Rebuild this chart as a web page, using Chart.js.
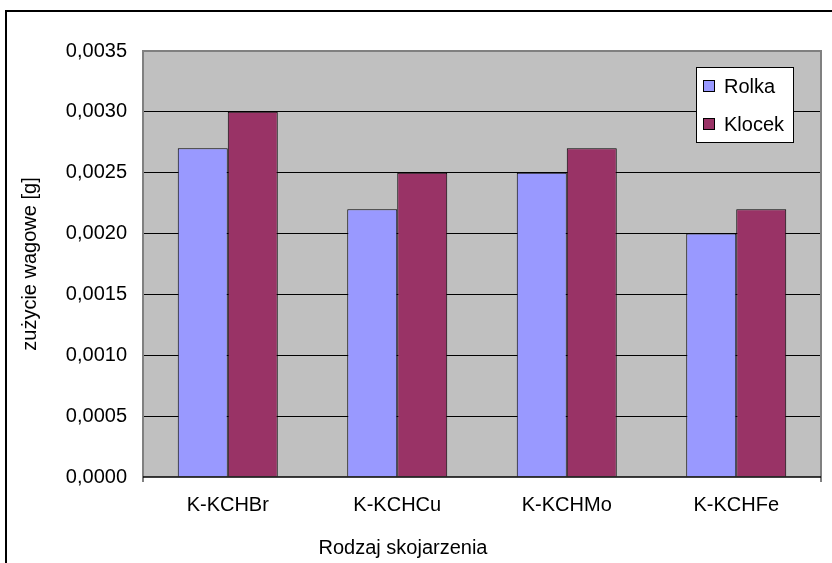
<!DOCTYPE html>
<html>
<head>
<meta charset="utf-8">
<script src="https://cdn.jsdelivr.net/npm/chart.js@4/dist/chart.umd.min.js"></script>
<style>
  html, body { margin: 0; padding: 0; background: #fff; }
  #wrap { position: relative; width: 832px; height: 563px; }
  canvas { display: block; }
</style>
</head>
<body>
<div id="wrap"><canvas id="c" width="832" height="563"></canvas></div>
<script>
// Wear measurements per material pairing
const categories = ['K-KCHBr', 'K-KCHCu', 'K-KCHMo', 'K-KCHFe'];
const rolka  = [0.0027, 0.0022, 0.0025, 0.0020];
const klocek = [0.0030, 0.0025, 0.0027, 0.0022];
const seriesNames = ['Rolka', 'Klocek'];
const yTicks = [0, 0.0005, 0.0010, 0.0015, 0.0020, 0.0025, 0.0030, 0.0035];

const FONT = '"Liberation Sans", Arial, sans-serif';
const FSIZE = 20;

// Outer frame, grey plot background, and plot border
const framePlugin = {
  id: 'frame',
  beforeDraw(chart) {
    const { ctx, chartArea: a } = chart;
    ctx.save();
    ctx.fillStyle = '#fff';
    ctx.fillRect(0, 0, chart.width, chart.height);
    ctx.strokeStyle = '#000';
    ctx.lineWidth = 2;
    ctx.strokeRect(6, 11, chart.width + 10, chart.height + 10);
    ctx.fillStyle = '#C0C0C0';
    ctx.fillRect(a.left, a.top, a.right - a.left, a.bottom - a.top);
    ctx.restore();
  },
  afterDatasetsDraw(chart) {
    const { ctx, chartArea: a } = chart;
    ctx.save();
    ctx.strokeStyle = '#808080';
    ctx.lineWidth = 2;
    ctx.beginPath();
    ctx.moveTo(a.left, a.bottom + 5);
    ctx.lineTo(a.left, a.top);
    ctx.lineTo(a.right, a.top);
    ctx.lineTo(a.right, a.bottom + 5);
    ctx.stroke();
    ctx.strokeStyle = '#000';
    ctx.lineWidth = 1.5;
    ctx.beginPath();
    ctx.moveTo(a.left, a.bottom);
    ctx.lineTo(a.right, a.bottom);
    ctx.stroke();
    ctx.restore();
  }
};

// Legend box drawn inside the plot area, upper right
const boxLegend = {
  id: 'boxLegend',
  afterDraw(chart) {
    const { ctx, chartArea: a } = chart;
    const x = a.right - 125, y = a.top + 16, w = 97, h = 75;
    ctx.save();
    ctx.fillStyle = '#fff';
    ctx.fillRect(x, y, w, h);
    ctx.strokeStyle = '#000';
    ctx.lineWidth = 1;
    ctx.strokeRect(x + 0.5, y + 0.5, w, h);
    ctx.font = FSIZE + 'px ' + FONT;
    ctx.textBaseline = 'middle';
    chart.data.datasets.forEach((ds, i) => {
      const cy = y + 19 + i * 38;
      ctx.fillStyle = ds.backgroundColor;
      ctx.fillRect(x + 7.5, cy - 5.5, 11, 11);
      ctx.strokeStyle = '#000';
      ctx.strokeRect(x + 7.5, cy - 5.5, 11, 11);
      ctx.fillStyle = '#000';
      ctx.fillText(ds.label, x + 28, cy + 1);
    });
    ctx.restore();
  }
};

// Category axis caption
const xCaption = {
  id: 'xCaption',
  afterDraw(chart) {
    const { ctx, chartArea: a } = chart;
    ctx.save();
    ctx.font = FSIZE + 'px ' + FONT;
    ctx.fillStyle = '#000';
    ctx.textAlign = 'center';
    ctx.textBaseline = 'middle';
    ctx.fillText('Rodzaj skojarzenia', a.left + 260, a.bottom + 71);
    ctx.restore();
  }
};

new Chart(document.getElementById('c'), {
  type: 'bar',
  data: {
    labels: categories,
    datasets: [
      { label: seriesNames[0], data: rolka, backgroundColor: '#9999FF', borderColor: '#000', borderWidth: 1 },
      { label: seriesNames[1], data: klocek, backgroundColor: '#993366', borderColor: '#000', borderWidth: 1 }
    ]
  },
  options: {
    responsive: false,
    animation: false,
    layout: { padding: { left: 0, top: 51, right: 11, bottom: 0 } },
    plugins: { legend: { display: false }, tooltip: { enabled: false } },
    datasets: { bar: { categoryPercentage: 0.59, barPercentage: 1.0 } },
    scales: {
      x: {
        grid: { display: false, drawTicks: false },
        border: { display: false },
        ticks: { color: '#000', font: { family: FONT, size: FSIZE }, padding: 16 },
        afterFit(s) { s.height = 86; }
      },
      y: {
        min: 0, max: 0.0035,
        afterBuildTicks(s) { s.ticks = yTicks.map(v => ({ value: v })); },
        grid: {
          color: ctx => (ctx.tick && ctx.tick.value > 0 && ctx.tick.value < 0.0035) ? '#000' : 'rgba(0,0,0,0)',
          lineWidth: 1,
          drawTicks: false
        },
        border: { display: false },
        ticks: {
          color: '#000',
          font: { family: FONT, size: FSIZE },
          padding: 16,
          callback: v => v.toFixed(4).replace('.', ',')
        },
        title: {
          display: true,
          text: 'zużycie wagowe [g]',
          color: '#000',
          font: { family: FONT, size: FSIZE },
          padding: { top: 18, bottom: 0 }
        },
        afterFit(s) { s.width = 143; }
      }
    }
  },
  plugins: [framePlugin, boxLegend, xCaption]
});
</script>
</body>
</html>
